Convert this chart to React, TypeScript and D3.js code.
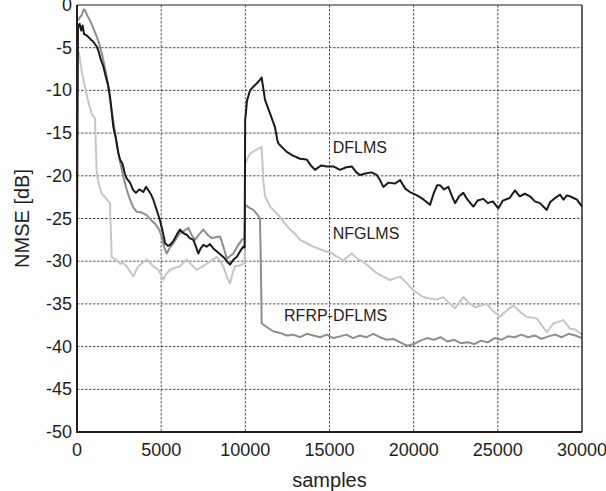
import React from "react";
import { scaleLinear, line } from "d3";

// NMSE curves: [samples, dB]
const dflms: [number, number][] = [
  [0, -27], [60, -2.6], [150, -2.2], [250, -3.0], [330, -2.4], [420, -3.4], [600, -3.6], [800, -4.0],
  [970, -4.3], [1150, -4.8], [1265, -5.3], [1400, -6.3], [1565, -7.2], [1700, -8.3], [1850, -9.4],
  [1960, -10.7], [2060, -12.5], [2160, -14.3], [2300, -15.5], [2450, -17.3], [2555, -18.1], [2700, -18.6],
  [2850, -19.8], [2950, -20.3], [3150, -20.8], [3345, -21.7], [3500, -22.0], [3700, -21.6], [3940, -21.9],
  [4100, -21.3], [4240, -21.7], [4400, -22.2], [4535, -22.8], [4700, -23.8], [4930, -25.2], [5100, -26.6],
  [5230, -27.9], [5400, -28.2], [5525, -28.1], [5700, -27.7], [5820, -27.3], [5950, -26.8], [6120, -26.3],
  [6300, -26.7], [6515, -26.9], [6700, -27.3], [6910, -27.5], [7050, -28.2], [7205, -29.1], [7350, -28.5],
  [7505, -28.1], [7700, -28.3], [7900, -28.0], [8100, -28.5], [8400, -29.0], [8690, -29.5], [8900, -30.0],
  [9090, -30.4], [9300, -29.8], [9490, -29.5], [9700, -28.8], [9880, -28.3], [9960, -28.4], [9990, -13.5],
  [10100, -11.2], [10280, -10.0], [10500, -9.5], [10675, -9.2], [10850, -8.8], [10970, -8.5], [11070, -9.8],
  [11170, -11.1], [11465, -12.7], [11760, -14.3], [11900, -15.8], [11960, -16.2], [12200, -16.7],
  [12460, -17.2], [12800, -17.6], [13250, -18.0], [13650, -18.1], [13900, -18.8], [14140, -19.3],
  [14500, -18.8], [14835, -18.9], [15230, -18.9], [15625, -19.3], [16000, -19.0], [16320, -18.9],
  [16600, -19.6], [16810, -19.9], [17200, -19.7], [17500, -19.6], [17805, -19.9], [18000, -20.5],
  [18200, -21.3], [18500, -20.8], [18900, -20.9], [19190, -20.5], [19500, -21.5], [19780, -21.9],
  [20200, -22.3], [20600, -22.8], [20970, -23.4], [21200, -22.0], [21400, -21.1], [21565, -21.1],
  [21800, -21.6], [22060, -21.3], [22300, -22.5], [22460, -23.2], [22700, -22.4], [22950, -22.0],
  [23200, -22.8], [23545, -23.6], [23800, -22.9], [24140, -22.7], [24400, -23.2], [24700, -23.0],
  [25030, -23.8], [25300, -22.9], [25700, -22.6], [26020, -21.7], [26300, -22.4], [26600, -22.1],
  [26910, -22.4], [27200, -23.0], [27500, -23.2], [27905, -24.0], [28100, -23.1], [28400, -22.6],
  [28695, -22.2], [28900, -22.8], [29100, -22.3], [29290, -22.4], [29500, -22.6], [29700, -22.8],
  [30000, -23.6],
];

const nfglms: [number, number][] = [
  [100, -5.5], [180, -6.4], [300, -8.0], [475, -9.6], [650, -11.2], [870, -12.7], [1070, -13.3],
  [1120, -16.5], [1170, -19.7], [1300, -21.0], [1465, -22.1], [1700, -22.6], [1960, -23.2], [2010, -26.5],
  [2060, -29.5], [2300, -29.8], [2555, -30.3], [2750, -30.2], [2950, -30.6], [3150, -31.2], [3345, -31.8],
  [3550, -30.9], [3740, -30.4], [3950, -30.1], [4140, -29.8], [4350, -30.2], [4535, -30.6], [4830, -31.0],
  [5000, -31.6], [5125, -32.2], [5300, -31.5], [5525, -31.0], [5800, -30.8], [6120, -30.6], [6300, -30.2],
  [6515, -29.8], [6800, -30.4], [7110, -31.0], [7400, -30.7], [7705, -30.3], [8000, -29.9], [8300, -29.5],
  [8500, -30.0], [8690, -30.6], [8900, -31.8], [9090, -32.6], [9250, -31.4], [9385, -30.6], [9650, -30.5],
  [9880, -30.3], [9960, -30.2], [9990, -18.5], [10100, -18.1], [10280, -17.4], [10600, -17.0],
  [10970, -16.6], [11070, -20.5], [11170, -22.4], [11465, -23.6], [11760, -24.2], [12060, -24.8],
  [12350, -25.6], [12655, -26.3], [12950, -26.8], [13250, -27.5], [13650, -27.9], [14040, -28.3],
  [14440, -28.6], [14835, -28.9], [15030, -28.9], [15400, -29.4], [15820, -29.9], [16320, -29.1],
  [16650, -29.7], [17010, -30.1], [17400, -30.7], [17805, -31.4], [18200, -31.8], [18595, -32.2],
  [19190, -31.8], [19600, -32.6], [19980, -33.4], [20570, -34.2], [21000, -34.4], [21370, -34.5],
  [21760, -34.2], [22100, -34.9], [22460, -35.5], [22950, -34.2], [23300, -34.9], [23650, -35.4],
  [24340, -35.0], [24700, -35.8], [25130, -36.5], [25500, -35.8], [25920, -35.2], [26300, -35.9],
  [26715, -36.5], [27310, -36.7], [27600, -37.5], [27905, -38.3], [28300, -37.3], [28890, -36.9],
  [29290, -37.9], [29600, -38.0], [30000, -38.6],
];

const rfrpDflms: [number, number][] = [
  [60, -1.8], [180, -1.4], [280, -1.2], [400, -0.5], [475, -0.6], [600, -1.2], [770, -1.8], [950, -2.6],
  [1170, -3.7], [1300, -4.4], [1465, -5.6], [1600, -6.8], [1765, -8.4], [1900, -10.2], [2060, -12.3],
  [2200, -14.2], [2360, -16.2], [2550, -18.3], [2750, -20.1], [2950, -21.6], [3150, -22.8], [3345, -23.7],
  [3545, -24.2], [3850, -24.3], [4140, -24.6], [4400, -25.2], [4635, -25.6], [4850, -26.2], [5030, -27.1],
  [5200, -28.5], [5330, -29.1], [5520, -28.4], [5720, -27.9], [5920, -27.3], [6120, -26.7], [6400, -26.4],
  [6615, -26.1], [6800, -26.9], [7010, -27.5], [7250, -26.9], [7505, -26.3], [7750, -26.9], [8000, -27.3],
  [8250, -27.2], [8495, -27.1], [8700, -28.3], [8895, -29.7], [9100, -29.4], [9290, -29.1], [9550, -28.2],
  [9785, -27.5], [9960, -27.3], [9990, -23.4], [10200, -23.7], [10475, -24.0], [10700, -24.5],
  [10870, -25.0], [10920, -30.0], [10970, -37.3], [11270, -37.7], [11650, -38.2], [12060, -38.4],
  [12450, -38.7], [12850, -38.6], [13250, -38.9], [13650, -38.5], [14040, -38.7], [14440, -38.9],
  [14835, -38.6], [15230, -39.0], [15625, -38.8], [16000, -38.6], [16400, -39.0], [16800, -38.7],
  [17200, -38.9], [17600, -38.5], [18000, -38.9], [18400, -39.2], [18800, -39.1], [19200, -39.5],
  [19600, -39.9], [20000, -39.7], [20400, -39.3], [20800, -39.0], [21200, -39.2], [21600, -38.9],
  [22000, -39.4], [22400, -39.2], [22800, -39.6], [23200, -39.5], [23600, -39.7], [24000, -39.3],
  [24400, -39.5], [24800, -39.0], [25200, -39.2], [25600, -38.8], [26000, -38.9], [26400, -38.6],
  [26800, -38.9], [27200, -38.7], [27600, -39.1], [28000, -38.8], [28400, -38.6], [28800, -38.9],
  [29200, -38.5], [29600, -38.7], [30000, -39.0],
];

const xTicks = [0, 5000, 10000, 15000, 20000, 25000, 30000];
const yTicks = [0, -5, -10, -15, -20, -25, -30, -35, -40, -45, -50];

// curve labels: [text, samples, dB]
const curveLabels: [string, number, number][] = [
  ["DFLMS", 15190, -16.7],
  ["NFGLMS", 15190, -26.8],
  ["RFRP-DFLMS", 12300, -36.3],
];

const W = 606;
const H = 491;
const left = 77, right = 582, top = 5, bottom = 432;
const font = "'Liberation Sans', Arial, Helvetica, sans-serif";
const ink = "#231f20";

export default function App() {
  const x = scaleLinear().domain([0, 30000]).range([left, right]);
  const y = scaleLinear().domain([-50, 0]).range([bottom, top]);
  const path = line<[number, number]>().x(d => x(d[0])).y(d => y(d[1]));

  return (
    <svg width={W} height={H} style={{ position: "absolute", left: 0, top: 0, background: "#fff" }}>
      <rect width={W} height={H} fill="#fff" />

      {/* grid */}
      {xTicks.slice(1, -1).map(t => (
        <line key={"gx" + t} x1={x(t)} x2={x(t)} y1={top} y2={bottom}
          stroke="#222" strokeWidth={0.8} strokeDasharray="2.5,1.5" />
      ))}
      {yTicks.slice(1, -1).map(t => (
        <line key={"gy" + t} x1={left} x2={right} y1={y(t)} y2={y(t)}
          stroke="#222" strokeWidth={0.8} strokeDasharray="2.5,1.5" />
      ))}

      {/* curves */}
      <path d={path(nfglms) ?? ""} fill="none" stroke="#c6c6c6" strokeWidth={2} strokeLinejoin="round" />
      <path d={path(rfrpDflms) ?? ""} fill="none" stroke="#8e8e8e" strokeWidth={2} strokeLinejoin="round" />
      <path d={path(dflms) ?? ""} fill="none" stroke="#1a1a1a" strokeWidth={2} strokeLinejoin="round" />

      {/* frame */}
      <line x1={left} x2={right} y1={top} y2={top} stroke={ink} strokeWidth={1.2} />
      <line x1={right} x2={right} y1={top} y2={bottom} stroke={ink} strokeWidth={1.4} />
      <line x1={left} x2={left} y1={top} y2={bottom + 1} stroke={ink} strokeWidth={2} />
      <line x1={left - 1} x2={right} y1={bottom} y2={bottom} stroke={ink} strokeWidth={2} />

      {/* tick labels */}
      {yTicks.map(t => (
        <text key={"yl" + t} x={left - 5} y={y(t)} textAnchor="end" dominantBaseline="central"
          fontFamily={font} fontSize={18} fill={ink}>{t}</text>
      ))}
      {xTicks.map(t => (
        <text key={"xl" + t} x={x(t)} y={bottom + 18} textAnchor="middle" dominantBaseline="central"
          fontFamily={font} fontSize={18} fill={ink}>{t}</text>
      ))}

      {/* axis titles */}
      <text x={(left + right) / 2} y={480} textAnchor="middle" dominantBaseline="central"
        fontFamily={font} fontSize={20} fill={ink}>samples</text>
      <text transform={`translate(22, ${(top + bottom) / 2}) rotate(-90)`} textAnchor="middle"
        dominantBaseline="central" fontFamily={font} fontSize={20} fill={ink}>NMSE [dB]</text>

      {/* curve labels */}
      {curveLabels.map(([s, sx, sy]) => (
        <text key={s} x={x(sx)} y={y(sy)} dominantBaseline="central" fontFamily={font}
          fontSize={16} fill={ink}>{s}</text>
      ))}
    </svg>
  );
}
